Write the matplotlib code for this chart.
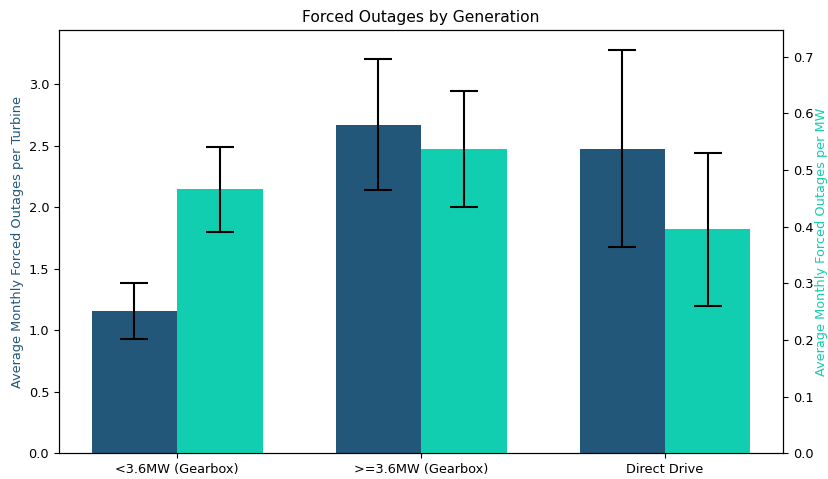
import numpy as np
import matplotlib.pyplot as plt

categories = ["<3.6MW (Gearbox)", ">=3.6MW (Gearbox)", "Direct Drive"]
per_turbine = [1.157, 2.672, 2.477]
per_turbine_err = [0.23, 0.53, 0.80]
per_mw = [0.466, 0.537, 0.395]
per_mw_err = [0.075, 0.103, 0.135]

blue = "#22577A"
teal = "#12CEB0"

plt.rcParams["font.size"] = 9.3

x = np.arange(len(categories))
width = 0.35

fig, ax1 = plt.subplots(figsize=(8.29, 4.79), dpi=100)
fig.subplots_adjust(left=0.071, right=0.945, top=0.937, bottom=0.054)
ax2 = ax1.twinx()

ax1.bar(x - width / 2, per_turbine, width, yerr=per_turbine_err, color=blue,
        capsize=10, error_kw=dict(elinewidth=1.5, capthick=1.5, ecolor="black"))
ax2.bar(x + width / 2, per_mw, width, yerr=per_mw_err, color=teal,
        capsize=10, error_kw=dict(elinewidth=1.5, capthick=1.5, ecolor="black"))

ax1.set_ylim(0, 3.44)
ax2.set_ylim(0, 0.747)
ax1.set_xticks(x)
ax1.set_xticklabels(categories)
ax1.set_ylabel("Average Monthly Forced Outages per Turbine", color=blue, labelpad=3)
ax2.set_ylabel("Average Monthly Forced Outages per MW", color=teal, labelpad=1)
ax1.set_title("Forced Outages by Generation", fontsize=11.2)

plt.savefig("out.png", dpi=100)
